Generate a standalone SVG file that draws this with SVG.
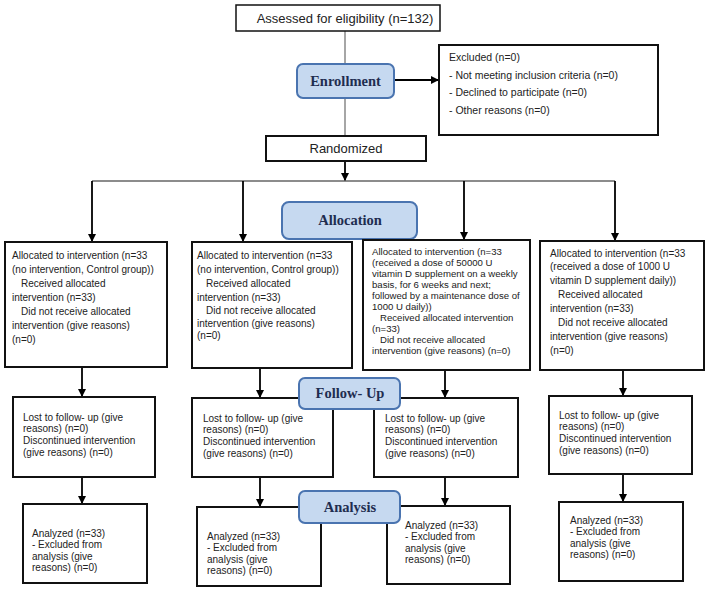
<svg xmlns="http://www.w3.org/2000/svg" width="708" height="592" viewBox="0 0 708 592">
<defs>
<marker id="ah" viewBox="0 0 10 10" refX="10" refY="5" markerWidth="8" markerHeight="8" markerUnits="userSpaceOnUse" orient="auto">
<path d="M0,0 L10,5 L0,10 z" fill="#000"/>
</marker>
<style>
.box{fill:#fff;stroke:#111;stroke-width:2}
.thin{fill:#fff;stroke:#111;stroke-width:1.5}
.lbl{fill:#c6d9f0;stroke:#4a74b0;stroke-width:2}
.lt{font-family:"Liberation Serif","Times New Roman",serif;font-weight:bold;font-size:14.5px;fill:#1f2d50;text-anchor:middle}
.t{font-family:"Liberation Sans",Arial,sans-serif;font-size:10px;fill:#222}
.t9{font-family:"Liberation Sans",Arial,sans-serif;font-size:9.6px;fill:#222}
.tx{font-family:"Liberation Sans",Arial,sans-serif;font-size:10.5px;fill:#222}
.tb{font-family:"Liberation Sans",Arial,sans-serif;font-size:13px;fill:#222;text-anchor:middle}
.c{stroke:#000;stroke-width:1.8;fill:none}
.g{stroke:#888;stroke-width:1.5;fill:none}
</style>
</defs>
<g id="connectors">
<line class="g" x1="345" y1="31" x2="345" y2="136"/>
<line class="c" x1="394" y1="80" x2="439" y2="80" marker-end="url(#ah)"/>
<line class="c" x1="345" y1="161" x2="345" y2="181" marker-end="url(#ah)"/>
<line class="g" x1="92" y1="181" x2="615" y2="181" style="stroke:#666"/>
<line class="c" x1="92" y1="181" x2="92" y2="242" marker-end="url(#ah)"/>
<line class="c" x1="243" y1="181" x2="243" y2="242" marker-end="url(#ah)"/>
<line class="c" x1="464" y1="181" x2="464" y2="240" marker-end="url(#ah)"/>
<line class="c" x1="615" y1="181" x2="615" y2="241" marker-end="url(#ah)"/>
<line class="c" x1="82" y1="367" x2="82" y2="397" marker-end="url(#ah)"/>
<line class="c" x1="260" y1="368" x2="260" y2="398" marker-end="url(#ah)"/>
<line class="c" x1="445" y1="370" x2="445" y2="398" marker-end="url(#ah)"/>
<line class="c" x1="623" y1="370" x2="623" y2="396" marker-end="url(#ah)"/>
<line class="c" x1="82" y1="477" x2="82" y2="504" marker-end="url(#ah)"/>
<line class="c" x1="260" y1="477" x2="260" y2="507" marker-end="url(#ah)"/>
<line class="c" x1="445" y1="477" x2="445" y2="506" marker-end="url(#ah)"/>
<line class="c" x1="623" y1="474" x2="623" y2="502" marker-end="url(#ah)"/>
</g>
<g id="assessed">
<rect class="thin" x="236" y="5" width="204" height="26"/>
<text class="tb" x="345" y="22.5">Assessed for eligibility (n=132)</text>
</g>
<g id="enrollment">
<rect class="lbl" x="297" y="64" width="97" height="34" rx="6"/>
<text class="lt" x="345.5" y="86">Enrollment</text>
</g>
<g id="excluded">
<rect class="box" x="439" y="45" width="219" height="90"/>
<text class="tx" x="449" y="61">Excluded (n=0)</text>
<text class="tx" x="449" y="79">- Not meeting inclusion criteria (n=0)</text>
<text class="tx" x="449" y="96">- Declined to participate (n=0)</text>
<text class="tx" x="449" y="114">- Other reasons (n=0)</text>
</g>
<g id="randomized">
<rect class="box" x="266" y="136" width="160" height="25"/>
<text class="tb" x="346" y="153">Randomized</text>
</g>
<g id="allocation">
<rect class="lbl" x="282" y="202" width="135" height="37" rx="7"/>
<text class="lt" x="350" y="225">Allocation</text>
</g>
<g id="alloc1">
<rect class="box" x="5" y="242" width="162" height="125"/>
<text class="t" x="12" y="258.5">Allocated to intervention (n=33</text>
<text class="t" x="12" y="272.5">(no intervention, Control group))</text>
<text class="t" x="21" y="286.5">Received allocated</text>
<text class="t" x="12" y="300.5">intervention (n=33)</text>
<text class="t" x="21" y="314.5">Did not receive allocated</text>
<text class="t" x="12" y="328.5">intervention (give reasons)</text>
<text class="t" x="12" y="342.5">(n=0)</text>
</g>
<g id="alloc2">
<rect class="box" x="192" y="242" width="160" height="126"/>
<text class="t" x="197" y="258.5">Allocated to intervention (n=33</text>
<text class="t" x="197" y="272.5">(no intervention, Control group))</text>
<text class="t" x="206" y="286.5">Received allocated</text>
<text class="t" x="197" y="300.5">intervention (n=33)</text>
<text class="t" x="206" y="313.5">Did not receive allocated</text>
<text class="t" x="197" y="326.5">intervention (give reasons)</text>
<text class="t" x="197" y="339">(n=0)</text>
</g>
<g id="alloc3">
<rect class="box" x="363" y="240" width="167" height="130"/>
<text class="t9" x="372" y="254.5">Allocated to intervention (n=33</text>
<text class="t9" x="372" y="265.5">(received a dose of 50000 U</text>
<text class="t9" x="372" y="276.5">vitamin D supplement on a weekly</text>
<text class="t9" x="372" y="287.5">basis, for 6 weeks and next;</text>
<text class="t9" x="372" y="298.5">followed by a maintenance dose of</text>
<text class="t9" x="372" y="309.5">1000 U daily))</text>
<text class="t9" x="380" y="320.5">Received allocated intervention</text>
<text class="t9" x="372" y="331.5">(n=33)</text>
<text class="t9" x="380" y="342.5">Did not receive allocated</text>
<text class="t9" x="372" y="353.5">intervention (give reasons) (n=0)</text>
</g>
<g id="alloc4">
<rect class="box" x="540" y="241" width="164" height="129"/>
<text class="t" x="550" y="256.5">Allocated to intervention (n=33</text>
<text class="t" x="550" y="269.5">(received a dose of 1000 U</text>
<text class="t" x="550" y="283.5">vitamin D supplement daily))</text>
<text class="t" x="558" y="297.5">Received allocated</text>
<text class="t" x="550" y="311.5">intervention (n=33)</text>
<text class="t" x="558" y="325.5">Did not receive allocated</text>
<text class="t" x="550" y="339.5">intervention (give reasons)</text>
<text class="t" x="550" y="353.5">(n=0)</text>
</g>
<g id="follow1">
<rect class="box" x="13" y="397" width="142" height="80"/>
<text class="t" x="23" y="420.5">Lost to follow- up (give</text>
<text class="t" x="23" y="432">reasons) (n=0)</text>
<text class="t" x="23" y="443.5">Discontinued intervention</text>
<text class="t" x="23" y="455.5">(give reasons) (n=0)</text>
</g>
<g id="follow2">
<rect class="box" x="192" y="398" width="141" height="79"/>
<text class="t" x="203" y="421.5">Lost to follow- up (give</text>
<text class="t" x="203" y="433">reasons) (n=0)</text>
<text class="t" x="203" y="444.5">Discontinued intervention</text>
<text class="t" x="203" y="456.5">(give reasons) (n=0)</text>
</g>
<g id="follow3">
<rect class="box" x="374" y="398" width="144" height="79"/>
<text class="t" x="385" y="421.5">Lost to follow- up (give</text>
<text class="t" x="385" y="433">reasons) (n=0)</text>
<text class="t" x="385" y="444.5">Discontinued intervention</text>
<text class="t" x="385" y="456.5">(give reasons) (n=0)</text>
</g>
<g id="follow4">
<rect class="box" x="549" y="396" width="143" height="78"/>
<text class="t" x="559" y="418.5">Lost to follow- up (give</text>
<text class="t" x="559" y="430">reasons) (n=0)</text>
<text class="t" x="559" y="441.5">Discontinued intervention</text>
<text class="t" x="559" y="453.5">(give reasons) (n=0)</text>
</g>
<g id="followup-label">
<rect class="lbl" x="299" y="378" width="101" height="31" rx="6"/>
<text class="lt" x="350" y="398">Follow- Up</text>
</g>
<g id="analysis1">
<rect class="box" x="23" y="504" width="124" height="79"/>
<text class="t" x="32" y="536.5">Analyzed (n=33)</text>
<text class="t" x="32" y="548">- Excluded from</text>
<text class="t" x="32" y="559.5">analysis (give</text>
<text class="t" x="32" y="571">reasons) (n=0)</text>
</g>
<g id="analysis2">
<rect class="box" x="197" y="507" width="124" height="79"/>
<text class="t" x="207" y="539.5">Analyzed (n=33)</text>
<text class="t" x="207" y="551">- Excluded from</text>
<text class="t" x="207" y="562.5">analysis (give</text>
<text class="t" x="207" y="574">reasons) (n=0)</text>
</g>
<g id="analysis3">
<rect class="box" x="387" y="506" width="123" height="78"/>
<text class="t" x="405" y="528.5">Analyzed (n=33)</text>
<text class="t" x="405" y="540">- Excluded from</text>
<text class="t" x="405" y="551.5">analysis (give</text>
<text class="t" x="405" y="563">reasons) (n=0)</text>
</g>
<g id="analysis4">
<rect class="box" x="559" y="502" width="124" height="79"/>
<text class="t" x="570" y="523.5">Analyzed (n=33)</text>
<text class="t" x="570" y="535">- Excluded from</text>
<text class="t" x="570" y="546.5">analysis (give</text>
<text class="t" x="570" y="558">reasons) (n=0)</text>
</g>
<g id="analysis-label">
<rect class="lbl" x="299" y="491" width="101" height="32" rx="6"/>
<text class="lt" x="350" y="512">Analysis</text>
</g>
</svg>
